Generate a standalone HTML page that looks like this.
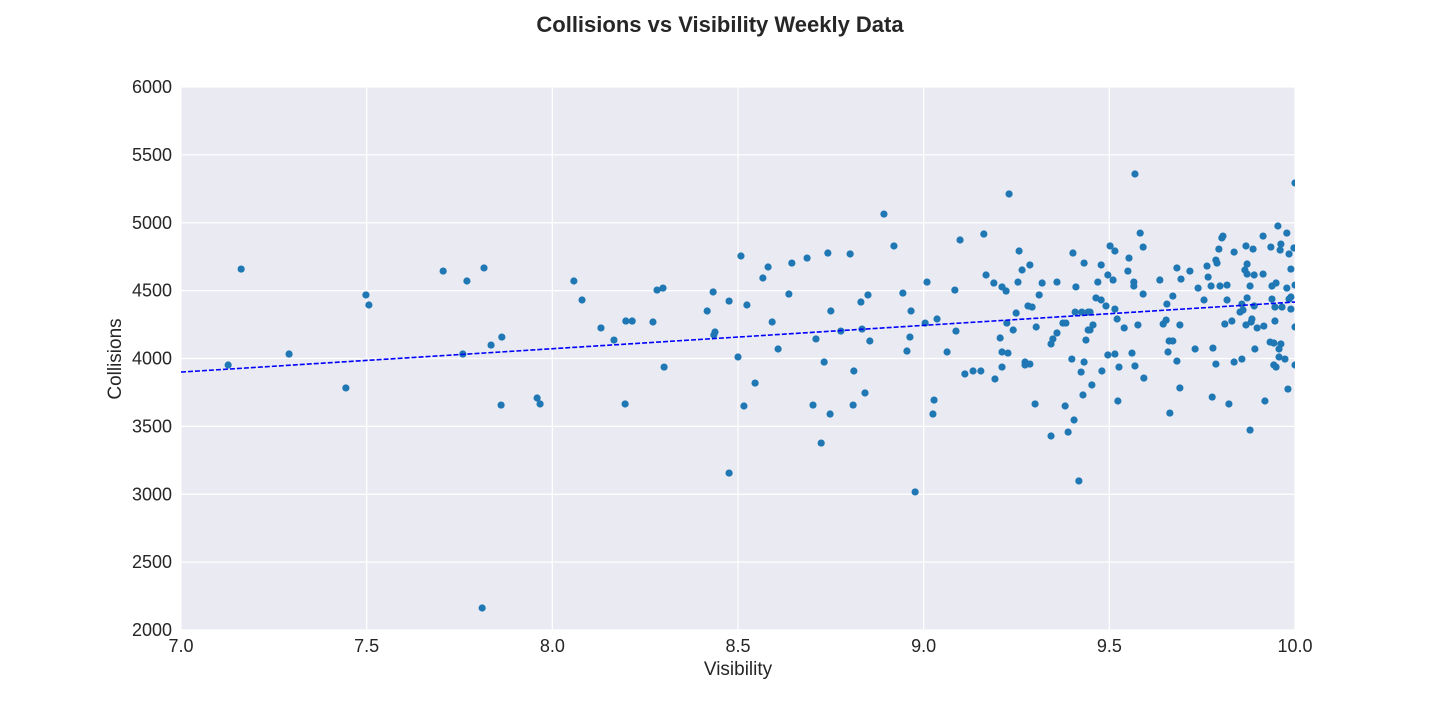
<!DOCTYPE html>
<html><head><meta charset="utf-8"><style>
body{margin:0;background:#fff;}
svg{display:block;font-family:"Liberation Sans",Arial,sans-serif;}
</style></head><body>
<svg id="chart" width="1440" height="720"></svg>
<script>
const xTicks=[7.0,7.5,8.0,8.5,9.0,9.5,10.0];
const xTickLabels=["7.0","7.5","8.0","8.5","9.0","9.5","10.0"];
const yTicks=[2000,2500,3000,3500,4000,4500,5000,5500,6000];
const yTickLabels=["2000","2500","3000","3500","4000","4500","5000","5500","6000"];
const trendX=[7.0,10.0];
const trendY=[3900,4416];
const visibility=[7.127,7.162,7.291,7.444,7.498,7.506,7.706,7.759,7.770,7.816,7.835,7.864,7.862,7.811,7.959,7.967,8.058,8.080,8.131,8.166,8.198,8.215,8.271,8.282,8.298,8.301,8.196,8.417,8.433,8.435,8.438,8.476,8.508,8.524,8.500,8.476,8.516,8.546,8.567,8.581,8.592,8.608,8.637,8.645,8.686,8.710,8.702,8.724,8.732,8.742,8.750,8.748,8.777,8.802,8.812,8.810,8.831,8.834,8.842,8.850,8.855,
8.893,8.920,8.944,8.966,8.963,8.955,9.009,9.004,9.036,9.087,9.063,9.084,9.098,9.162,9.168,9.189,9.211,9.222,9.254,9.257,9.265,9.286,9.319,9.311,9.281,9.292,9.249,9.224,9.241,9.206,9.211,9.227,9.303,9.343,9.348,9.359,9.375,9.383,9.359,9.410,9.402,9.432,9.408,9.426,9.443,9.443,9.437,9.399,9.432,9.424,9.429,9.381,9.405,9.389,9.343,9.418,9.300,9.273,9.273,9.286,9.192,9.211,9.154,9.133,9.111,9.028,9.025,8.977,9.230,
9.569,10.0,9.583,9.591,9.502,9.515,9.553,9.478,9.550,9.496,9.510,9.469,9.566,9.566,9.591,9.464,9.478,9.491,9.515,9.448,9.521,9.456,9.448,9.540,9.577,9.496,9.515,9.561,9.480,9.526,9.569,9.593,9.453,9.523,9.636,9.682,9.693,9.717,9.671,9.655,9.653,9.645,9.690,9.661,9.671,9.658,9.682,9.690,9.663,9.731,9.739,9.755,9.763,9.766,9.774,9.787,9.790,9.795,9.803,9.806,9.798,9.817,9.836,9.817,9.811,9.830,9.779,9.787,9.777,9.822,9.836,9.857,9.868,9.887,9.871,9.865,9.871,9.890,9.879,9.871,9.857,9.890,9.852,9.860,9.884,9.882,9.868,9.898,9.916,9.892,9.914,9.914,9.935,9.954,9.962,9.960,9.978,9.984,9.997,9.989,9.938,9.949,9.978,10.0,9.938,9.946,9.965,9.984,9.989,9.989,9.946,10.0,9.933,9.943,9.962,9.957,9.957,9.973,9.943,9.949,10.0,9.981,9.919,9.879];
const collisions=[3952,4659,4033,3783,4468,4394,4644,4033,4571,4667,4099,4158,3657,2162,3709,3665,4571,4431,4225,4136,4276,4276,4269,4504,4519,3937,3665,4350,4490,4173,4195,4423,4755,4394,4011,3156,3650,3819,4593,4674,4269,4070,4475,4703,4740,4144,3657,3377,3974,4777,4350,3591,4202,4770,3908,3657,4416,4217,3746,4468,4129,
5064,4829,4482,4350,4158,4055,4563,4261,4291,4202,4048,4504,4873,4917,4615,4556,4527,4497,4563,4792,4652,4689,4556,4468,4387,4379,4335,4261,4210,4151,4048,4040,4232,4107,4144,4188,4261,4261,4563,4527,4777,4703,4342,4342,4342,4210,4136,3996,3974,3900,3731,3650,3547,3458,3429,3098,3665,3974,3952,3959,3849,3937,3908,3908,3886,3694,3591,3017,5212,
5359,5293,4924,4821,4829,4792,4740,4689,4644,4615,4578,4563,4563,4534,4475,4446,4431,4387,4364,4342,4291,4247,4210,4225,4247,4026,4033,4040,3908,3937,3945,3856,3805,3687,4578,4667,4585,4644,4460,4401,4283,4254,4247,4129,4129,4048,3981,3783,3598,4070,4519,4431,4681,4600,4534,4725,4703,4806,4888,4902,4534,4541,4784,4431,4254,4276,4077,3959,3716,3665,3974,3996,4829,4806,4696,4652,4622,4615,4534,4446,4401,4387,4342,4357,4291,4269,4247,4225,4239,4070,4902,4622,4821,4976,4843,4799,4924,4770,4814,4659,4534,4556,4519,4541,4438,4379,4379,4438,4453,4364,4276,4232,4121,4114,4107,4070,4011,3996,3952,3937,3952,3775,3687,3473];

const NS="http://www.w3.org/2000/svg";
const svg=document.getElementById('chart');
const L=181,R=1295,T=87,B=630;
const xS=v=>L+(v-7)/3*(R-L);
const yS=v=>B-(v-2000)/4000*(B-T);
function mk(tag,attrs,parent){const e=document.createElementNS(NS,tag);for(const k in attrs)e.setAttribute(k,attrs[k]);(parent||svg).appendChild(e);return e;}

const title=mk('text',{x:720,y:32,'text-anchor':'middle','font-size':22,'font-weight':'bold',fill:'#262626'});
title.textContent='Collisions vs Visibility Weekly Data';



const bg=mk('rect',{x:L,y:T,width:R-L,height:B-T,fill:'#EAEAF2'});



xTicks.forEach((t,i)=>{
  const g=mk('line',{x1:xS(t),x2:xS(t),y1:T,y2:B,stroke:'#fff','stroke-width':1.2});
  
  
  const lb=mk('text',{x:xS(t),y:652,'text-anchor':'middle','font-size':18,fill:'#262626'});
  lb.textContent=xTickLabels[i];
  
  
});
yTicks.forEach((t,i)=>{
  const g=mk('line',{x1:L,x2:R,y1:yS(t),y2:yS(t),stroke:'#fff','stroke-width':1.2});
  
  
  const lb=mk('text',{x:172,y:yS(t)+6,'text-anchor':'end','font-size':18,fill:'#262626'});
  lb.textContent=yTickLabels[i];
  
  
});

const xl=mk('text',{x:738,y:675,'text-anchor':'middle','font-size':19,fill:'#262626'});
xl.textContent='Visibility';


const yl=mk('text',{x:0,y:0,'text-anchor':'middle','font-size':19,fill:'#262626',transform:'translate(121,359) rotate(-90)'});
yl.textContent='Collisions';



const clip=mk('clipPath',{id:'pc'});
mk('rect',{x:L,y:T,width:R-L,height:B-T},clip);
const pts=mk('g',{'clip-path':'url(#pc)'});


visibility.forEach((v,i)=>{
  const c=mk('circle',{cx:xS(v),cy:yS(collisions[i]),r:3.6,fill:'#1f77b4'},pts);
  
  
});
const tl=mk('line',{x1:xS(trendX[0]),y1:yS(trendY[0]),x2:xS(trendX[1]),y2:yS(trendY[1]),stroke:'#0000ff','stroke-width':1.6,'stroke-dasharray':'5,2'});


</script>
</body></html>
